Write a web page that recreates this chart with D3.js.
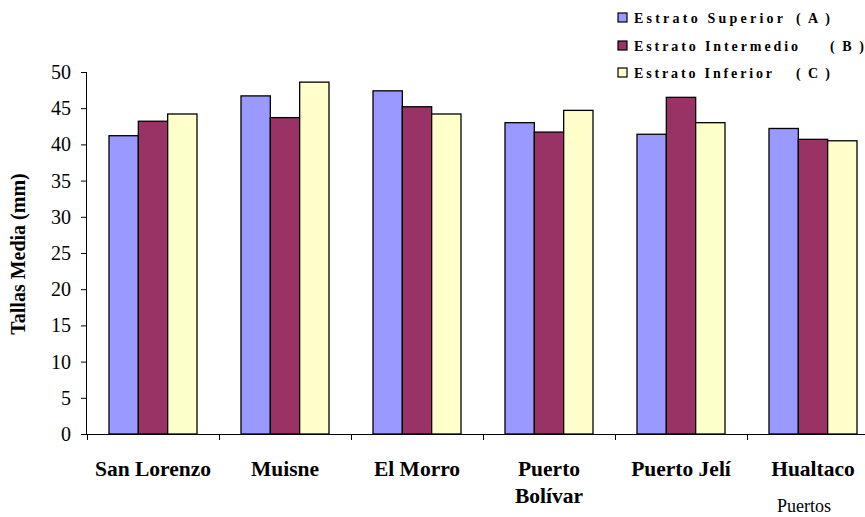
<!DOCTYPE html>
<html>
<head>
<meta charset="utf-8">
<script src="https://cdn.jsdelivr.net/npm/d3@7"></script>
<style>
  html, body { margin: 0; padding: 0; background: #fff; overflow: hidden; }
  svg { display: block; font-family: "Liberation Serif", "Times New Roman", serif; }
</style>
</head>
<body>
<svg id="chart" width="865" height="517"></svg>
<script>
// Mean sizes by port and stratum
const ports = ["San Lorenzo", "Muisne", "El Morro", "Puerto Bolívar", "Puerto Jelí", "Hualtaco"];
const portLines = [["San Lorenzo"], ["Muisne"], ["El Morro"], ["Puerto", "Bolívar"], ["Puerto Jelí"], ["Hualtaco"]];
const seriesNames = ["Estrato Superior", "Estrato Intermedio", "Estrato Inferior"];
const seriesTags = ["( A )", "( B )", "( C )"];
const seriesKeys = ["A", "B", "C"];
const superior   = [41.2, 46.7, 47.4, 43.0, 41.4, 42.2];
const intermedio = [43.2, 43.7, 45.2, 41.7, 46.5, 40.7];
const inferior   = [44.2, 48.6, 44.2, 44.7, 43.0, 40.5];
const yTicks = [0, 5, 10, 15, 20, 25, 30, 35, 40, 45, 50];
const colors = ["#9999FF", "#993366", "#FFFFCC"];

const values = [superior, intermedio, inferior];
const svg = d3.select("#chart");

const x0 = 87, yTop = 72, yBottom = 434;
const band = 132;
const x = d3.scaleBand().domain(ports).range([x0, x0 + band * ports.length]).paddingInner(0).paddingOuter(0);
const xs = d3.scaleBand().domain(seriesKeys).range([0, x.bandwidth()]).paddingInner(0).paddingOuter(0.75);
const y = d3.scaleLinear().domain([0, 50]).range([yBottom, yTop]);

// Bars
ports.forEach((p, i) => {
  const g = svg.append("g").attr("transform", `translate(${x(p)},0)`);
  seriesKeys.forEach((k, j) => {
    g.append("rect")
      .attr("x", xs(k))
      .attr("y", y(values[j][i]))
      .attr("width", xs.bandwidth())
      .attr("height", y(0) - y(values[j][i]))
      .attr("fill", colors[j])
      .attr("stroke", "#000")
      .attr("stroke-width", 1.3);
  });
});

// Y axis
const yAxis = d3.axisLeft(y).tickValues(yTicks).tickSize(6).tickPadding(10);
const gy = svg.append("g").attr("transform", `translate(${x0},0)`).call(yAxis);
gy.attr("font-family", null);
gy.select(".domain").attr("stroke", "#000").attr("d", `M-0.5,${yTop}V${yBottom}`);
gy.selectAll(".tick line").attr("stroke", "#000");
gy.selectAll(".tick text")
  .style("font-family", "'Liberation Serif', serif")
  .style("font-size", "20px")
  .attr("fill", "#000");

// X axis line with ticks at category boundaries
const boundaries = ports.map(p => x(p)).concat([x0 + band * ports.length]);
svg.append("line").attr("x1", x0).attr("x2", x0 + band * ports.length)
  .attr("y1", yBottom + 0.5).attr("y2", yBottom + 0.5).attr("stroke", "#000");
svg.selectAll(".xtick").data(boundaries).enter().append("line")
  .attr("x1", d => Math.round(d) + 0.5).attr("x2", d => Math.round(d) + 0.5)
  .attr("y1", yBottom).attr("y2", yBottom + 6).attr("stroke", "#000");

// Category labels
ports.forEach((p, i) => {
  const t = svg.append("text")
    .attr("x", x(p) + x.bandwidth() / 2)
    .attr("y", 476)
    .attr("text-anchor", "middle")
    .attr("font-weight", "bold")
    .attr("font-size", 21.5);
  portLines[i].forEach((line, k) => {
    t.append("tspan").attr("x", x(p) + x.bandwidth() / 2).attr("dy", k === 0 ? 0 : 27).text(line);
  });
});

// Axis titles
svg.append("text")
  .attr("transform", `translate(25,254) rotate(-90)`)
  .attr("text-anchor", "middle")
  .attr("font-weight", "bold")
  .attr("font-size", 20)
  .text("Tallas Media (mm)");

svg.append("text")
  .attr("x", 804).attr("y", 512)
  .attr("text-anchor", "middle")
  .attr("font-size", 18)
  .text("Puertos");

// Legend
const legendY = [18, 46, 73];
const nameEnd = [783, 798, 772];
const tagStart = [796, 830, 796];
seriesNames.forEach((name, j) => {
  svg.append("rect")
    .attr("x", 618).attr("y", legendY[j] - 5)
    .attr("width", 9).attr("height", 9)
    .attr("fill", colors[j]).attr("stroke", "#000").attr("stroke-width", 1.2);
  svg.append("text")
    .attr("x", 634).attr("y", legendY[j] + 5)
    .attr("font-weight", "bold")
    .attr("font-size", 14)
    .attr("textLength", nameEnd[j] - 634)
    .attr("lengthAdjust", "spacing")
    .text(name);
  svg.append("text")
    .attr("x", tagStart[j]).attr("y", legendY[j] + 5)
    .attr("font-weight", "bold")
    .attr("font-size", 14)
    .attr("textLength", 34)
    .attr("lengthAdjust", "spacing")
    .text(seriesTags[j]);
});
</script>
</body>
</html>
